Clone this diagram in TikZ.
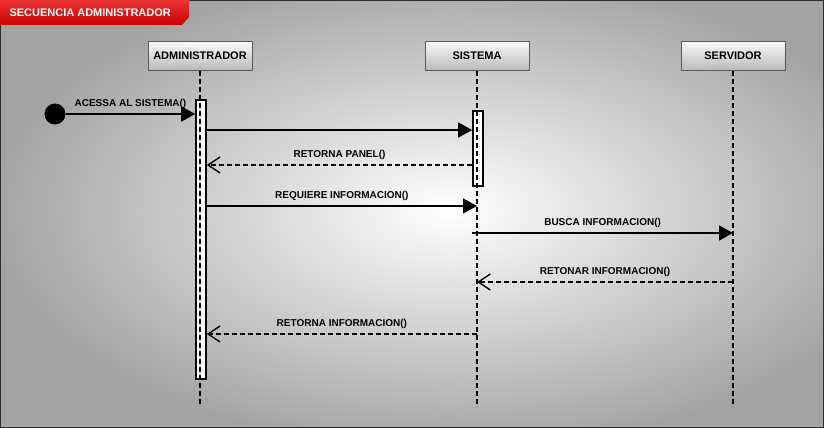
\documentclass[tikz,border=0pt]{standalone}
\usepackage{fontspec}
\setmainfont{Liberation Sans}
\usetikzlibrary{arrows.meta}
\definecolor{tabtop}{RGB}{236,52,52}
\definecolor{tabbottom}{RGB}{204,0,0}

\begin{document}
\begin{tikzpicture}[x=1pt,y=-1pt]
\tikzstyle{headbox}=[
	draw=gray!70!black, line width=1pt,
	top color=gray!4, bottom color=gray!55,
	minimum width=104pt, minimum height=29pt, inner sep=0pt,
	font=\bfseries\fontsize{11}{13}\selectfont ]
\tikzstyle{actbar}=[draw, fill=white, line width=1.6pt, minimum width=10pt, inner sep=0pt]
\tikzstyle{lifeline}=[line width=1.6pt, dash pattern=on 5pt off 3pt]
\tikzstyle{call}=[line width=1.6pt, -{Triangle[length=14pt,width=15pt]}]
\tikzstyle{reply}=[line width=1.4pt, dash pattern=on 5pt off 3pt, -{Straight Barb[length=12pt,width=16pt]}]
\tikzstyle{msg}=[font=\bfseries\fontsize{10}{12}\selectfont, above=1pt]
\useasboundingbox (0,0) rectangle (824,428);
% fondo
\begin{scope}
\clip (0,0) rectangle (824,428);
\shade[inner color=white, outer color=gray!72] (-10,-30) rectangle (910,450);
\end{scope}
\draw[gray!35!black, line width=2pt] (0,0) rectangle (824,428);
% titulo
\shade[top color=tabtop, bottom color=tabbottom]
	(0,0) -- (189,0) -- (189,17) -- (182,25) -- (0,25) -- cycle;
\node[anchor=west, text=white, font=\bfseries\fontsize{11}{13}\selectfont] (title) at (6,13) {SECUENCIA ADMINISTRADOR};
% objetos
\node[headbox] (admin) at (200,56) {ADMINISTRADOR};
\node[headbox] (sistema) at (477,56) {SISTEMA};
\node[headbox] (servidor) at (733,56) {SERVIDOR};
\coordinate (admin end) at (200,407);
\coordinate (sistema end) at (477,407);
\coordinate (servidor end) at (733,407);
% activaciones
\node[actbar, minimum height=279pt] (adminbar) at (201,239.5) {};
\node[actbar, minimum height=75pt] (sistemabar) at (478,148.5) {};
\draw[lifeline] (admin) -- (admin end);
\draw[lifeline] (sistema) -- (sistema end);
\draw[lifeline] (servidor) -- (servidor end);
% mensajes
\node[circle, fill=black, minimum size=21pt, inner sep=0pt] (start) at (55,114) {};
\draw[call] (start) -- (adminbar.west |- start) node[msg, midway] {ACESSA AL SISTEMA()};
\coordinate (m1) at (0,130);
\coordinate (m2) at (0,165);
\coordinate (m3) at (0,206);
\coordinate (m4) at (0,233);
\coordinate (m5) at (0,282);
\coordinate (m6) at (0,334);
\draw[call] (adminbar.east |- m1) -- (sistemabar.west |- m1);
\draw[reply] (sistemabar.west |- m2) -- (adminbar.east |- m2) node[msg, midway] {RETORNA PANEL()};
\draw[call] (adminbar.east |- m3) -- (sistema end |- m3) node[msg, midway] {REQUIERE INFORMACION()};
\draw[call] (sistemabar.west |- m4) -- (servidor end |- m4) node[msg, midway] {BUSCA INFORMACION()};
\draw[reply] (servidor end |- m5) -- (sistema end |- m5) node[msg, midway] {RETONAR INFORMACION()};
\draw[reply] (sistema end |- m6) -- (adminbar.east |- m6) node[msg, midway] {RETORNA INFORMACION()};
\end{tikzpicture}
\end{document}
